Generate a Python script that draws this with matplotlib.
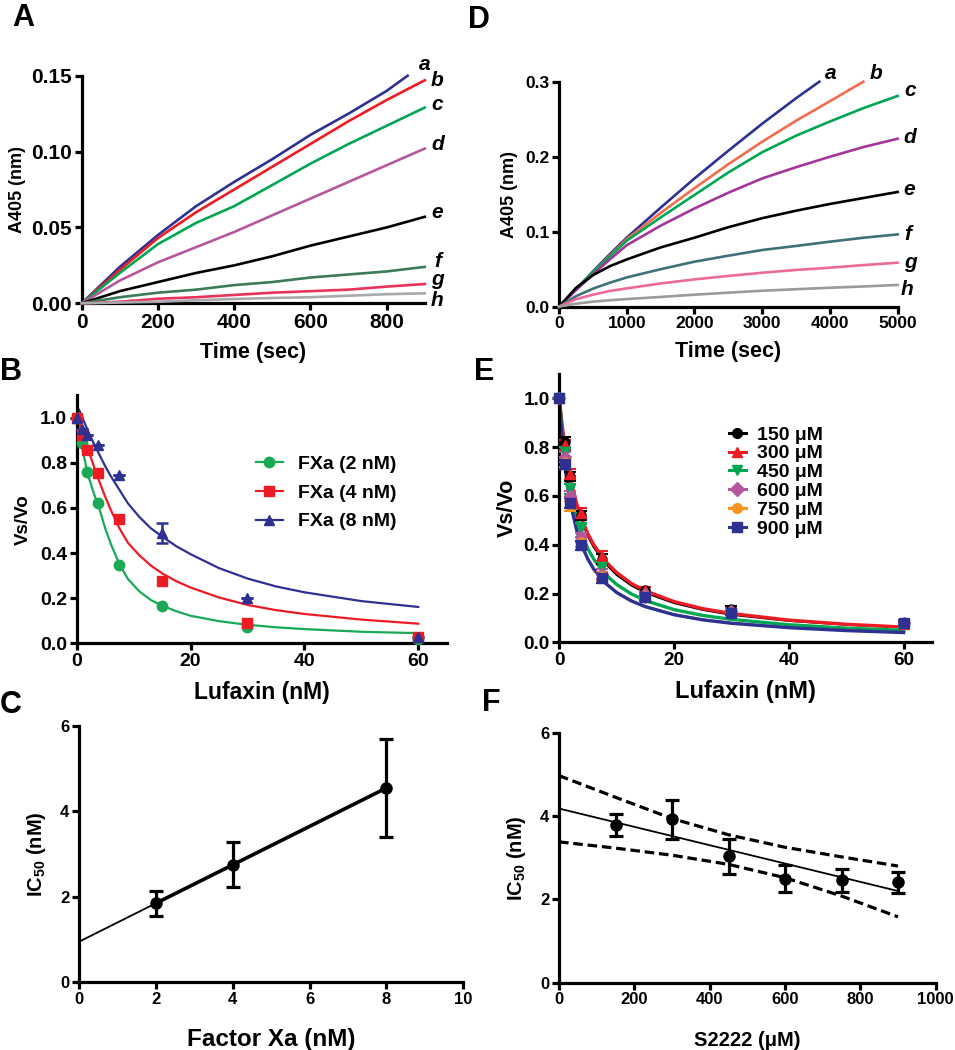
import numpy as np
import matplotlib
matplotlib.use('Agg')
import matplotlib.pyplot as plt
from matplotlib.ticker import FormatStrFormatter
from matplotlib.lines import Line2D

plt.rcParams['font.family'] = ['Liberation Sans', 'DejaVu Sans']
plt.rcParams['font.weight'] = 'bold'
plt.rcParams['axes.labelweight'] = 'bold'
plt.rcParams['mathtext.fontset'] = 'custom'
plt.rcParams['mathtext.rm'] = 'Liberation Sans:bold'
plt.rcParams['mathtext.bf'] = 'Liberation Sans:bold'

# ---- panel A: A405 vs time (sec), curves a-h
A_names = ['a', 'b', 'c', 'd', 'e', 'f', 'g', 'h']
A_t = [0, 100, 200, 300, 400, 500, 600, 700, 800, 900]
A_t_a = [0, 100, 200, 300, 400, 500, 600, 700, 800, 855]
A_vals = [
    [0, 0.024, 0.045, 0.064, 0.080, 0.095, 0.111, 0.125, 0.140, 0.150],
    [0, 0.022, 0.043, 0.060, 0.075, 0.090, 0.105, 0.120, 0.134, 0.147],
    [0, 0.020, 0.039, 0.053, 0.064, 0.078, 0.092, 0.105, 0.117, 0.129],
    [0, 0.015, 0.027, 0.037, 0.047, 0.058, 0.069, 0.080, 0.091, 0.102],
    [0, 0.008, 0.014, 0.020, 0.025, 0.031, 0.038, 0.044, 0.050, 0.057],
    [0, 0.004, 0.007, 0.009, 0.012, 0.014, 0.017, 0.019, 0.021, 0.024],
    [0, 0.001, 0.003, 0.004, 0.0055, 0.007, 0.008, 0.009, 0.011, 0.0127],
    [0, 0.0005, 0.001, 0.002, 0.0028, 0.0035, 0.004, 0.005, 0.006, 0.0066],
]
A_colors = ['#2e3192', '#ed1c24', '#00a651', '#b5579c', '#000000',
            '#3d7a57', '#e8345b', '#a7a9ac']
A_lab_off = [(12, 8), (9, 0), (9, 2), (9, 3), (9, 3), (9, 4), (9, 3), (9, -5)]

# ---- panel D: A405 vs time (sec), curves a-h
D_t = [0, 250, 500, 750, 1000, 1500, 2000, 2500, 3000, 3500, 4000, 4500, 5000]
D_t_end = [3843, 4493, 5000, 5000, 5000, 5000, 5000, 5000]
D_vals = [
    [0, 0.023, 0.047, 0.070, 0.092, 0.132, 0.171, 0.208, 0.244, 0.278, 0.300],
    [0, 0.023, 0.046, 0.068, 0.090, 0.125, 0.158, 0.190, 0.220, 0.248, 0.274, 0.300],
    [0, 0.023, 0.046, 0.067, 0.088, 0.119, 0.149, 0.179, 0.206, 0.228, 0.247, 0.265, 0.281],
    [0, 0.022, 0.043, 0.063, 0.082, 0.108, 0.131, 0.152, 0.171, 0.186, 0.200, 0.213, 0.224],
    [0, 0.025, 0.042, 0.054, 0.063, 0.079, 0.092, 0.106, 0.118, 0.128, 0.137, 0.145, 0.153],
    [0, 0.014, 0.024, 0.032, 0.039, 0.050, 0.060, 0.068, 0.0756, 0.081, 0.0867, 0.092, 0.0964],
    [0, 0.010, 0.016, 0.021, 0.0244, 0.031, 0.0364, 0.041, 0.0453, 0.049, 0.052, 0.0555, 0.0587],
    [0, 0.004, 0.0067, 0.0086, 0.0102, 0.013, 0.016, 0.0187, 0.0213, 0.0233, 0.0253, 0.027, 0.029],
]
D_colors = ['#2e3192', '#f26c4f', '#00a651', '#a3359b', '#000000',
            '#3f7178', '#ec6a9b', '#9a9a9a']
D_lab_off = [(8, 6), (9, 6), (9, 4), (9, 1), (8, 2), (7, 0), (9, 0), (7, -3)]

# ---- panel B: Vs/Vo vs Lufaxin (nM) for FXa 2/4/8 nM
B_x = [0, 0.94, 1.875, 3.75, 7.5, 15, 30, 60]
B_y2 = [1.0, 0.888, 0.759, 0.62, 0.347, 0.167, 0.07, 0.02]
B_y4 = [1.0, 0.925, 0.856, 0.756, 0.55, 0.275, 0.092, 0.027]
B_y8 = [1.0, 0.95, 0.922, 0.88, 0.747, 0.49, 0.20, 0.03]
B_err8 = [0, 0, 0, 0, 0, 0.045, 0, 0]
B_fx = [0, 0.5, 1, 2, 3, 4, 5, 6, 7.5, 9, 11, 13, 15, 17.5, 20, 25, 30, 35, 40, 50, 60]
B_fit2 = [1.04, 0.93, 0.86, 0.745, 0.665, 0.595, 0.51, 0.44, 0.35, 0.285,
          0.23, 0.192, 0.167, 0.142, 0.122, 0.098, 0.082, 0.071, 0.063, 0.051, 0.045]
B_fit4 = [1.04, 0.98, 0.94, 0.86, 0.785, 0.715, 0.65, 0.59, 0.51, 0.445,
          0.39, 0.345, 0.31, 0.275, 0.247, 0.203, 0.170, 0.147, 0.130, 0.105, 0.087]
B_fit8 = [1.05, 1.03, 1.0, 0.94, 0.885, 0.835, 0.785, 0.74, 0.68, 0.62,
          0.56, 0.51, 0.473, 0.430, 0.395, 0.333, 0.287, 0.252, 0.226, 0.187, 0.161]
B_labels = ['FXa (2 nM)', 'FXa (4 nM)', 'FXa (8 nM)']

# ---- panel E: Vs/Vo vs Lufaxin (nM) at several S2222 concentrations
E_x = [0, 0.94, 1.875, 3.75, 7.5, 15, 30, 60]
E_labels = ['150 \u03bcM', '300 \u03bcM', '450 \u03bcM', '600 \u03bcM', '750 \u03bcM', '900 \u03bcM']
E_y = [
    [1.0, 0.82, 0.68, 0.52, 0.34, 0.215, 0.137, 0.08],
    [1.0, 0.81, 0.69, 0.53, 0.355, 0.215, 0.13, 0.075],
    [1.0, 0.78, 0.63, 0.47, 0.31, 0.18, 0.12, 0.07],
    [1.0, 0.76, 0.60, 0.43, 0.28, 0.20, 0.13, 0.08],
    [1.0, 0.74, 0.56, 0.41, 0.27, 0.19, 0.12, 0.08],
    [1.0, 0.73, 0.57, 0.397, 0.263, 0.185, 0.12, 0.081],
]
E_err = [
    [0, 0.02, 0.02, 0.02, 0.02, 0.01, 0.01, 0.01],
    [0, 0.02, 0.02, 0.02, 0.02, 0.01, 0.01, 0.01],
    [0, 0.02, 0.02, 0.02, 0.02, 0.01, 0.01, 0.01],
    [0, 0.02, 0.02, 0.02, 0.02, 0.01, 0.01, 0.01],
    [0, 0.02, 0.02, 0.02, 0.02, 0.01, 0.01, 0.01],
    [0, 0.02, 0.02, 0.02, 0.02, 0.01, 0.01, 0.01],
]
E_fx = [0, 0.5, 1, 1.5, 2, 3, 4, 5, 6, 8, 10, 12.5, 15, 20, 25, 30, 40, 50, 60]
E_fit = [
    [1, 0.884, 0.792, 0.717, 0.655, 0.559, 0.487, 0.432, 0.388, 0.322, 0.275, 0.233, 0.202, 0.160, 0.132, 0.112, 0.087, 0.071, 0.060],
    [1, 0.889, 0.800, 0.727, 0.667, 0.571, 0.500, 0.444, 0.400, 0.333, 0.286, 0.242, 0.211, 0.167, 0.138, 0.118, 0.091, 0.074, 0.0625],
    [1, 0.861, 0.756, 0.674, 0.608, 0.508, 0.437, 0.383, 0.341, 0.279, 0.237, 0.199, 0.171, 0.134, 0.110, 0.094, 0.072, 0.058, 0.049],
    [1, 0.839, 0.722, 0.634, 0.565, 0.464, 0.394, 0.342, 0.302, 0.245, 0.206, 0.172, 0.148, 0.115, 0.094, 0.080, 0.061, 0.049, 0.041],
    [1, 0.839, 0.722, 0.634, 0.565, 0.464, 0.394, 0.342, 0.302, 0.245, 0.206, 0.172, 0.148, 0.115, 0.094, 0.080, 0.061, 0.049, 0.041],
    [1, 0.838, 0.720, 0.632, 0.563, 0.462, 0.392, 0.340, 0.300, 0.243, 0.204, 0.170, 0.146, 0.113, 0.092, 0.078, 0.060, 0.048, 0.040],
]
E_colors = ['#000000', '#ed1c24', '#00a651', '#b5579c', '#f7941d', '#2e3192']
E_markers = ['o', '^', 'v', 'D', 'o', 's']
E_fitlw = [1.2, 2.4, 2.4, 1.2, 1.2, 2.4]

# ---- panel C: IC50 vs Factor Xa
C_x = [2, 4, 8]
C_y = [1.85, 2.75, 4.55]
C_err = [0.29, 0.53, 1.15]
C_reg_x = [0, 8]
C_reg_y = [0.95, 4.55]

# ---- panel F: IC50 vs S2222
F_x = [150, 300, 450, 600, 750, 900]
F_y = [3.78, 3.92, 3.04, 2.50, 2.46, 2.41]
F_err = [0.27, 0.46, 0.42, 0.33, 0.28, 0.25]
F_reg_x = [0, 900]
F_reg_y = [4.18, 2.20]
F_band_x = [0, 150, 300, 450, 600, 750, 900]
F_band_hi = [4.97, 4.45, 3.94, 3.55, 3.25, 3.02, 2.80]
F_band_lo = [3.38, 3.23, 3.06, 2.84, 2.52, 2.08, 1.58]

W, H = 955, 1050
fig = plt.figure(figsize=(W / 100, H / 100), dpi=100)


def add_axes(left, top, right, bottom):
    return fig.add_axes([left / W, 1 - bottom / H, (right - left) / W, (bottom - top) / H])


def style(ax, fs):
    for s in ['top', 'right']:
        ax.spines[s].set_visible(False)
    for s in ['left', 'bottom']:
        ax.spines[s].set_linewidth(2.3)
    ax.tick_params(width=2.3, length=5, labelsize=fs, direction='out', pad=2)


axA = add_axes(81.7, 75.7, 424.8, 303.3)
axD = add_axes(559, 81.7, 897.7, 306.7)
axB = add_axes(76.7, 395, 446.7, 643.3)
axE = add_axes(559.3, 374, 932.3, 642.3)
axC = add_axes(79, 726, 463.3, 982.3)
axF = add_axes(559, 732.7, 935.7, 982.7)

# panel A
for i, name in enumerate(A_names):
    t = A_t_a if i == 0 else A_t
    axA.plot(t, A_vals[i], color=A_colors[i], lw=1.9, clip_on=False, zorder=3)
    axA.annotate(name, (t[-1], A_vals[i][-1]), xytext=A_lab_off[i],
                 textcoords='offset points', ha='center', va='center',
                 fontsize=15, fontstyle='italic', fontweight='bold',
                 annotation_clip=False)
style(axA, 15)
axA.set_xlim(0, 900)
axA.set_ylim(0, 0.15)
axA.set_xticks([0, 200, 400, 600, 800])
axA.set_yticks([0, 0.05, 0.10, 0.15])
axA.yaxis.set_major_formatter(FormatStrFormatter('%.2f'))
axA.set_xlabel('Time (sec)', fontsize=15.5, labelpad=7)
axA.set_ylabel('A405 (nm)', fontsize=13, labelpad=4)

# panel D
for i, name in enumerate(A_names):
    t = [v for v in D_t if v < D_t_end[i]] + [D_t_end[i]]
    axD.plot(t, D_vals[i], color=D_colors[i], lw=1.9, clip_on=False, zorder=3)
    axD.annotate(name, (t[-1], D_vals[i][-1]), xytext=D_lab_off[i],
                 textcoords='offset points', ha='center', va='center',
                 fontsize=15, fontstyle='italic', fontweight='bold',
                 annotation_clip=False)
style(axD, 12.5)
axD.set_xlim(0, 5000)
axD.set_ylim(0, 0.3)
axD.set_xticks([0, 1000, 2000, 3000, 4000, 5000])
axD.set_yticks([0, 0.1, 0.2, 0.3])
axD.yaxis.set_major_formatter(FormatStrFormatter('%.1f'))
axD.set_xlabel('Time (sec)', fontsize=15.5, labelpad=7)
axD.set_ylabel('A405 (nm)', fontsize=13, labelpad=5)

# panel B
B_cols = ['#1aaa55', '#ed1c24', '#2e3192']
B_mk = ['o', 's', '^']
B_data = [B_y2, B_y4, B_y8]
B_fits = [B_fit2, B_fit4, B_fit8]
handles = []
for i in range(3):
    axB.plot(B_fx, B_fits[i], color=B_cols[i], lw=1.6, zorder=2)
    err = B_err8 if i == 2 else None
    axB.errorbar(B_x, B_data[i], yerr=err, fmt=B_mk[i], color=B_cols[i],
                 ms=7.5, capsize=4, elinewidth=1.8, capthick=1.8,
                 clip_on=False, zorder=3)
    handles.append(Line2D([], [], color=B_cols[i], marker=B_mk[i], ms=7.5, lw=1.6))
style(axB, 14)
axB.set_xlim(0, 65)
axB.set_ylim(0, 1.1)
axB.set_xticks([0, 20, 40, 60])
axB.set_yticks([0, 0.2, 0.4, 0.6, 0.8, 1.0])
axB.yaxis.set_major_formatter(FormatStrFormatter('%.1f'))
axB.set_xlabel('Lufaxin (nM)', fontsize=16.5, labelpad=8)
axB.set_ylabel('Vs/Vo', fontsize=13.5, labelpad=6)
axB.legend(handles, B_labels, frameon=False, fontsize=14, loc='upper left',
           bbox_to_anchor=(256 / W, 1 - 455 / H), bbox_transform=fig.transFigure,
           borderpad=0, borderaxespad=0, handlelength=1.37, handletextpad=0.8,
           labelspacing=0.58)

# panel E
handles = []
for i in range(6):
    axE.plot(E_fx, E_fit[i], color=E_colors[i], lw=E_fitlw[i], zorder=2)
    axE.errorbar(E_x, E_y[i], yerr=E_err[i], fmt=E_markers[i], color=E_colors[i],
                 ms=6.5 if E_markers[i] != 's' else 7.5, capsize=4,
                 elinewidth=1.5, capthick=1.5, clip_on=False, zorder=3)
    handles.append(Line2D([], [], color=E_colors[i], marker=E_markers[i], ms=7, lw=2.2))
style(axE, 13.6)
axE.set_xlim(0, 65)
axE.set_ylim(0, 1.1)
axE.set_xticks([0, 20, 40, 60])
axE.set_yticks([0, 0.2, 0.4, 0.6, 0.8, 1.0])
axE.yaxis.set_major_formatter(FormatStrFormatter('%.1f'))
axE.set_xlabel('Lufaxin (nM)', fontsize=17, labelpad=8)
axE.set_ylabel('Vs/Vo', fontsize=15.5, labelpad=4)
axE.legend(handles, E_labels, frameon=False, fontsize=14, loc='upper left',
           bbox_to_anchor=(729 / W, 1 - 426 / H), bbox_transform=fig.transFigure,
           borderpad=0, borderaxespad=0, handlelength=0.86, handletextpad=0.57,
           labelspacing=0.06)

# panel C
axC.plot(C_reg_x, C_reg_y, color='black', lw=1.3, zorder=2)
axC.errorbar(C_x, C_y, yerr=C_err, fmt='-o', color='black', lw=2.6, ms=8,
             capsize=5, elinewidth=2.3, capthick=2.3, zorder=3)
style(axC, 12)
axC.set_xlim(0, 10)
axC.set_ylim(0, 6)
axC.set_xticks([0, 2, 4, 6, 8, 10])
axC.set_yticks([0, 2, 4, 6])
axC.set_xlabel('Factor Xa (nM)', fontsize=17.5, labelpad=15)
axC.set_ylabel(r'IC$_{50}$ (nM)', fontsize=14.5, labelpad=9)

# panel F
axF.plot(F_band_x, F_band_hi, color='black', lw=2.3, ls=(0, (3, 1.5)), zorder=2)
axF.plot(F_band_x, F_band_lo, color='black', lw=2.3, ls=(0, (3, 1.5)), zorder=2)
axF.plot(F_reg_x, F_reg_y, color='black', lw=1.3, zorder=2)
axF.errorbar(F_x, F_y, yerr=F_err, fmt='o', color='black', ms=8,
             capsize=5, elinewidth=2.3, capthick=2.3, zorder=3)
style(axF, 12)
axF.set_xlim(0, 1000)
axF.set_ylim(0, 6)
axF.set_xticks([0, 200, 400, 600, 800, 1000])
axF.set_yticks([0, 2, 4, 6])
axF.set_xlabel('S2222 (\u03bcM)', fontsize=14.5, labelpad=17)
axF.set_ylabel(r'IC$_{50}$ (nM)', fontsize=14.5, labelpad=9)

# panel letters
for letter, x, y in [('A', 12, 3), ('D', 468, 5), ('B', 0, 357),
                     ('E', 474, 357), ('C', 0, 690), ('F', 482, 688)]:
    fig.text(x / W, 1 - y / H, letter, fontsize=22, fontweight='bold', va='top', ha='left')

fig.savefig('out.png', dpi=100)
